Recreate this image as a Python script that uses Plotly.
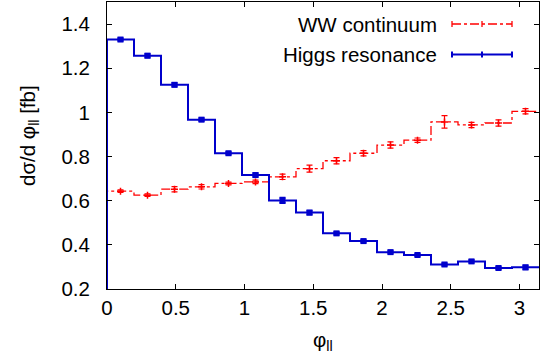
import numpy as np
import plotly.graph_objects as go

# binning in phi_ll : 16 bins on [0, pi]
n_bins = 16
phi_max = np.pi

ww_vals = [0.643, 0.625, 0.652, 0.663, 0.678, 0.685, 0.708, 0.745,
           0.781, 0.815, 0.852, 0.874, 0.957, 0.943, 0.952, 1.005]
ww_err = [0.006, 0.006, 0.012, 0.010, 0.006, 0.008, 0.012, 0.016,
          0.014, 0.012, 0.014, 0.010, 0.028, 0.012, 0.014, 0.012]

higgs_vals = [1.330, 1.257, 1.125, 0.967, 0.815, 0.716, 0.601, 0.546,
              0.452, 0.417, 0.367, 0.354, 0.311, 0.325, 0.295, 0.298]
higgs_err = [0.006, 0.008, 0.008, 0.006, 0.006, 0.008, 0.012, 0.008,
             0.006, 0.006, 0.006, 0.006, 0.006, 0.006, 0.006, 0.008]

x_ticks = [0, 0.5, 1, 1.5, 2, 2.5, 3]
y_ticks = [0.2, 0.4, 0.6, 0.8, 1.0, 1.2, 1.4]
y_min, y_max = 0.2, 1.5

edges = np.linspace(0, phi_max, n_bins + 1)
centers = 0.5 * (edges[:-1] + edges[1:])

RED = '#ff0000'
BLUE = '#0000cc'
FONT = 'Liberation Sans, Arial, sans-serif'
FS = 20.5


def step_xy(vals):
    # gnuplot "histeps" like outline, starting from the bottom of the frame
    xs = [edges[0]] + list(edges)
    ys = [y_min] + list(vals) + [vals[-1]]
    return xs, ys


fig = go.Figure()

xs, ys = step_xy(ww_vals)
fig.add_trace(go.Scatter(x=xs, y=ys, mode='lines', line_shape='hv',
                         line=dict(color=RED, width=1.3, dash='dashdot'),
                         showlegend=False, hoverinfo='skip'))
fig.add_trace(go.Scatter(x=centers, y=ww_vals, mode='markers',
                         marker=dict(symbol='cross-thin', size=5,
                                     line=dict(color=RED, width=1.5)),
                         error_y=dict(type='data', array=ww_err, color=RED,
                                      thickness=1.2, width=3),
                         showlegend=False, name='WW continuum'))

xs, ys = step_xy(higgs_vals)
fig.add_trace(go.Scatter(x=xs, y=ys, mode='lines', line_shape='hv',
                         line=dict(color=BLUE, width=2),
                         showlegend=False, hoverinfo='skip'))
fig.add_trace(go.Scatter(x=centers, y=higgs_vals, mode='markers',
                         marker=dict(symbol='square', size=6, color=BLUE),
                         error_y=dict(type='data', array=higgs_err, color=BLUE,
                                      thickness=2, width=3),
                         showlegend=False, name='Higgs resonance'))

# pixel -> paper helpers (plot frame is 107..539 x 2..289)
def px_x(p):
    return (p - 107) / 432.0


def px_y(p):
    return (289 - p) / 287.0


# hand-made legend, gnuplot style (text left, sample right)
legend_rows = [('WW continuum', RED, 'dashdot', 1.3, 24),
               ('Higgs resonance', BLUE, 'solid', 2, 54.5)]
for label, col, dash, lw, py in legend_rows:
    fig.add_annotation(x=px_x(439), y=px_y(py), xref='paper', yref='paper',
                       text=label, showarrow=False, xanchor='right',
                       yanchor='middle', font=dict(family=FONT, size=FS, color='black'))
    fig.add_shape(type='line', xref='paper', yref='paper',
                  x0=px_x(452), x1=px_x(512), y0=px_y(py), y1=px_y(py),
                  line=dict(color=col, width=lw, dash=dash))
    for cx in (452, 482, 512):
        fig.add_shape(type='line', xref='paper', yref='paper',
                      x0=px_x(cx), x1=px_x(cx), y0=px_y(py - 3), y1=px_y(py + 3),
                      line=dict(color=col, width=lw))

# axis titles
fig.add_annotation(x=px_x(14), y=px_y(136), xref='paper', yref='paper',
                   text='dσ/d φ<sub>ll</sub> [fb]', textangle=-90, showarrow=False,
                   font=dict(family=FONT, size=FS, color='black'))
fig.add_annotation(x=px_x(323), y=px_y(326), xref='paper', yref='paper',
                   text='φ<sub>ll</sub>', showarrow=False, yanchor='top',
                   font=dict(family=FONT, size=FS, color='black'))

axis_common = dict(showline=True, linecolor='black', linewidth=1, mirror='ticks',
                   ticks='inside', ticklen=5, tickcolor='black', tickwidth=1,
                   showgrid=False, zeroline=False, automargin=False,
                   tickfont=dict(family=FONT, size=FS, color='black'))

fig.update_xaxes(range=[0, phi_max], tickvals=x_ticks,
                 ticktext=[f'{t:g}' for t in x_ticks],
                 ticklabelstandoff=0, **axis_common)
fig.update_yaxes(range=[y_min, y_max], tickvals=y_ticks,
                 ticktext=[f'{t:g}' for t in y_ticks],
                 ticklabelstandoff=12, **axis_common)

fig.update_layout(width=540, height=359,
                  margin=dict(l=107, r=1, t=2, b=70),
                  plot_bgcolor='white', paper_bgcolor='white',
                  showlegend=False)

# page has the browser's default 8px body margin; drop it
fig.write_html("out.html", config={'displayModeBar': False},
               post_script="document.body.style.margin='0';document.body.style.overflow='hidden';")
